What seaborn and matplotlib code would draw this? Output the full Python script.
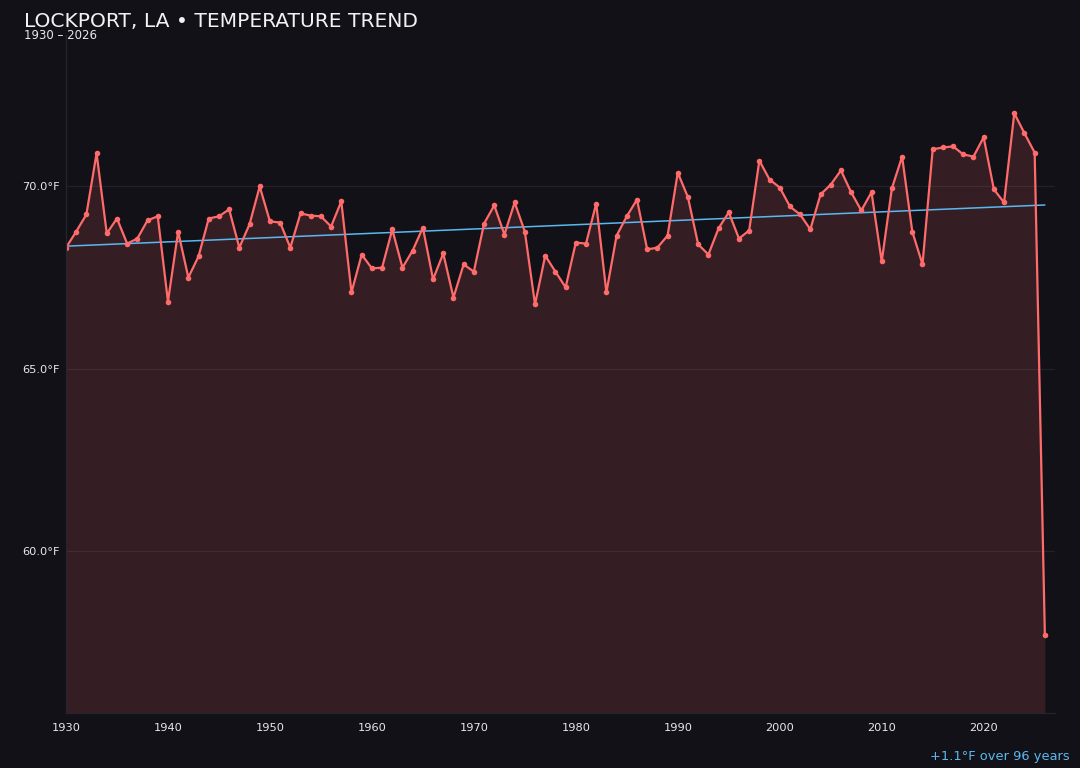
import numpy as np
import pandas as pd
import matplotlib
matplotlib.use("Agg")
import matplotlib.pyplot as plt
import seaborn as sns

# ---- data ----
years = list(range(1930, 2027))
temps = [
    68.32, 68.76, 69.23, 70.91, 68.71, 69.12, 68.43, 68.57, 69.07, 69.18,  # 1930s
    66.84, 68.76, 67.50, 68.08, 69.12, 69.18, 69.37, 68.32, 68.96, 70.00,  # 1940s
    69.04, 69.01, 68.32, 69.26, 69.20, 69.18, 68.90, 69.59, 67.09, 68.13,  # 1950s
    67.75, 67.77, 68.82, 67.77, 68.24, 68.87, 67.45, 68.16, 66.95, 67.86,  # 1960s
    67.66, 68.98, 69.48, 68.68, 69.56, 68.76, 66.76, 68.10, 67.66, 67.23,  # 1970s
    68.46, 68.43, 69.53, 67.09, 68.65, 69.18, 69.64, 68.27, 68.32, 68.65,  # 1980s
    70.38, 69.70, 68.41, 68.13, 68.85, 69.29, 68.57, 68.79, 70.71, 70.19,  # 1990s
    69.97, 69.45, 69.23, 68.82, 69.78, 70.05, 70.44, 69.84, 69.34, 69.84,  # 2000s
    67.94, 69.95, 70.82, 68.76, 67.86, 71.02, 71.07, 71.10, 70.88, 70.82,  # 2010s
    71.35, 69.92, 69.56, 72.01, 71.46, 70.93, 57.69,                      # 2020s
]
y_ticks = [60.0, 65.0, 70.0]
x_ticks = [1930, 1940, 1950, 1960, 1970, 1980, 1990, 2000, 2010, 2020]
title = "LOCKPORT, LA \u2022 TEMPERATURE TREND"
subtitle = "1930 \u2013 2026"

BG = "#121117"
LINE = "#ff6b6b"
TREND = "#5ab8f0"
GRID = "#22212a"
TXT = "#e8e8ec"

df = pd.DataFrame({"year": years, "temp": temps})

sns.set_theme(style="dark")
plt.rcParams["font.family"] = ["DejaVu Sans"]

fig = plt.figure(figsize=(10.8, 7.68), dpi=100, facecolor=BG)
ax = fig.add_axes([0.0611, 0.0716, 0.9158, 0.8828])
ax.set_facecolor(BG)

tmin, tmax = min(temps), max(temps)
rng = tmax - tmin
ylo, yhi = tmin - 0.15 * rng, tmax + 0.15 * rng

ax.fill_between(df["year"], df["temp"], ylo, color=LINE, alpha=0.145, linewidth=0)

slope, intercept = np.polyfit(df["year"], df["temp"], 1)
df["trend"] = slope * df["year"] + intercept
sns.lineplot(data=df, x="year", y="trend", ax=ax, color=TREND, linewidth=1.1)

sns.lineplot(data=df, x="year", y="temp", ax=ax, color=LINE, linewidth=1.6,
             marker="o", markersize=4, markeredgewidth=0)

ax.set_xlim(years[0], years[-1] + 1)
ax.set_ylim(ylo, yhi)
ax.set_xticks(x_ticks)
ax.set_xticklabels([str(x) for x in x_ticks])
ax.set_yticks(y_ticks)
ax.set_yticklabels([f"{v:.1f}\u00b0F" for v in y_ticks])
ax.set_xlabel("")
ax.set_ylabel("")

ax.grid(axis="y", color=GRID, linewidth=0.9)
ax.grid(axis="x", visible=False)
ax.tick_params(axis="x", colors=TXT, labelsize=8.2, length=3, width=0.8, color="#3a3a44", pad=4)
ax.tick_params(axis="y", colors=TXT, labelsize=8.2, length=0, pad=4.5)
for s in ["top", "right"]:
    ax.spines[s].set_visible(False)
for s in ["left", "bottom"]:
    ax.spines[s].set_visible(True)
    ax.spines[s].set_color("#26252e")
    ax.spines[s].set_linewidth(0.9)

fig.text(0.022, 0.965, title, color="#f2f2f4", fontsize=14.6, ha="left", va="baseline")
fig.text(0.022, 0.949, subtitle, color=TXT, fontsize=8.5, ha="left", va="baseline")

span = years[-1] - years[0]
change = slope * span
fig.text(0.990, 0.011, f"{change:+.1f}\u00b0F over {span} years", color=TREND,
         fontsize=9.4, ha="right", va="baseline")

fig.savefig("out.png", dpi=100, facecolor=BG)
